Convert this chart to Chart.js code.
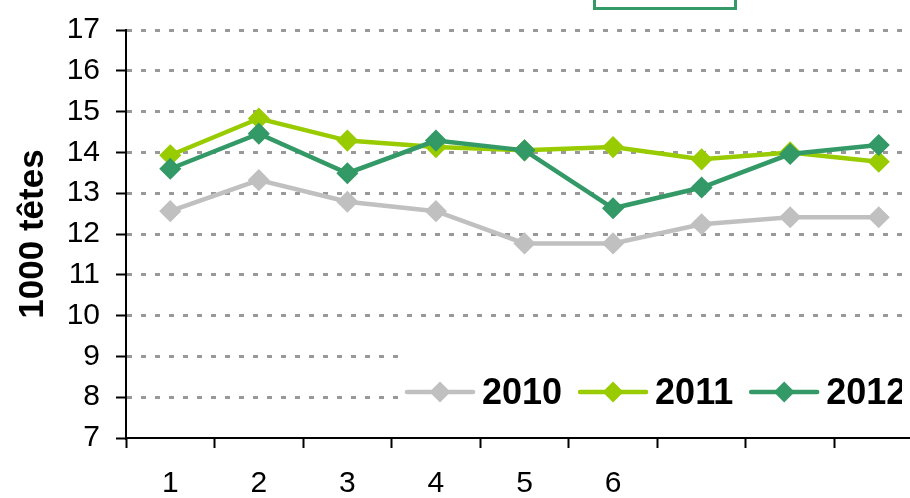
<!DOCTYPE html>
<html>
<head>
<meta charset="utf-8">
<script src="https://cdn.jsdelivr.net/npm/chart.js@4/dist/chart.umd.min.js"></script>
<style>
  html, body { margin: 0; padding: 0; background: #fff; overflow: hidden; }
  #outer { width: 910px; height: 498px; overflow: hidden; }
  #wrap { width: 923px; height: 498px; }
  #c { display: block; }
</style>
</head>
<body>
<div id="outer"><div id="wrap"><canvas id="c" width="923" height="498"></canvas></div></div>
<script>
const categories = ['1', '2', '3', '4', '5', '6', '', '', ''];
const seriesNames = ['2010', '2011', '2012'];
const values2010 = [12.56, 13.32, 12.79, 12.56, 11.77, 11.77, 12.24, 12.41, 12.41];
const values2011 = [13.93, 14.83, 14.29, 14.13, 14.05, 14.13, 13.83, 14.00, 13.77];
const values2012 = [13.60, 14.46, 13.49, 14.29, 14.05, 12.63, 13.14, 13.96, 14.18];
const yMin = 7, yMax = 17, yStep = 1;
const yTitle = '1000 têtes';
const colors = ['#C0C0C0', '#99CC00', '#339966'];

const FONT = "'Liberation Sans', Arial, sans-serif";

function ds(label, data, color, order) {
  return {
    label, data,
    borderColor: color, backgroundColor: color,
    borderWidth: 4.5, tension: 0,
    pointStyle: 'rectRot', pointRadius: 10,
    pointBorderWidth: 1.5, pointBorderColor: color, pointBackgroundColor: color,
    pointHoverRadius: 10,
    clip: false,
    order
  };
}

const topBoxPlugin = {
  id: 'topBox',
  afterDraw(chart) {
    const c = chart.ctx;
    c.save();
    c.strokeStyle = '#339966';
    c.lineWidth = 3;
    c.strokeRect(594.5, -20, 141, 28.5);
    c.restore();
  }
};

const legendPlugin = {
  id: 'manualLegend',
  afterDatasetsDraw(chart) {
    const c = chart.ctx;
    c.save();
    c.fillStyle = '#fff';
    c.fillRect(400, 340, 530, 86);
    c.beginPath();
    c.rect(400, 340, 502, 86);
    c.clip();
    c.font = 'bold 36px ' + FONT;
    c.textBaseline = 'alphabetic';
    c.textAlign = 'left';
    let x = 407;
    const yLine = 392;
    chart.data.datasets.forEach((d) => {
      const col = d.borderColor;
      c.strokeStyle = col;
      c.lineWidth = 4.5;
      c.lineCap = 'round';
      c.beginPath();
      c.moveTo(x, yLine);
      c.lineTo(x + 66, yLine);
      c.stroke();
      c.fillStyle = col;
      c.beginPath();
      const cx = x + 33, r = 10.5;
      c.moveTo(cx - r, yLine); c.lineTo(cx, yLine - r); c.lineTo(cx + r, yLine); c.lineTo(cx, yLine + r);
      c.closePath(); c.fill();
      c.fillStyle = '#000';
      c.fillText(d.label, x + 75, 404);
      x += 75 + c.measureText(d.label).width + 18;
    });
    c.restore();
  }
};

new Chart(document.getElementById('c'), {
  type: 'line',
  data: {
    labels: categories,
    datasets: [
      ds(seriesNames[0], values2010, colors[0], 2),
      ds(seriesNames[1], values2011, colors[1], 1),
      ds(seriesNames[2], values2012, colors[2], 0)
    ]
  },
  options: {
    responsive: false,
    maintainAspectRatio: false,
    animation: false,
    devicePixelRatio: 1,
    layout: { autoPadding: false, padding: { left: 0, top: 30, right: 0, bottom: 0 } },
    plugins: { legend: { display: false }, tooltip: { enabled: false }, title: { display: false } },
    scales: {
      x: {
        type: 'category',
        offset: true,
        afterFit(s) { s.height = 60; s.paddingLeft = 0; s.paddingRight = 0; },
        grid: { display: true, drawOnChartArea: false, offset: true, tickLength: 10, tickColor: '#000', tickWidth: 2, color: '#000' },
        border: { display: true, color: '#000', width: 2 },
        ticks: { autoSkip: false, maxRotation: 0, minRotation: 0, padding: 18, color: '#000', font: { family: FONT, size: 30 } }
      },
      y: {
        min: yMin, max: yMax,
        afterFit(s) { s.width = 126; s.paddingTop = 0; s.paddingBottom = 0; },
        grid: {
          color: (ctx) => (ctx.tick && ctx.tick.value === yMin) ? 'rgba(0,0,0,0)' : '#999999',
          lineWidth: 3, tickLength: 10, tickColor: '#000', tickWidth: 2, tickBorderDash: []
        },
        border: { display: true, color: '#000', width: 2, dash: [5, 9] },
        ticks: { stepSize: yStep, padding: 16, color: '#000', font: { family: FONT, size: 30 } },
        title: { display: true, text: yTitle, color: '#000', padding: { top: 12, bottom: 0 }, font: { family: FONT, size: 35, weight: 'bold' } }
      }
    }
  },
  plugins: [legendPlugin, topBoxPlugin]
});
</script>
</body>
</html>
